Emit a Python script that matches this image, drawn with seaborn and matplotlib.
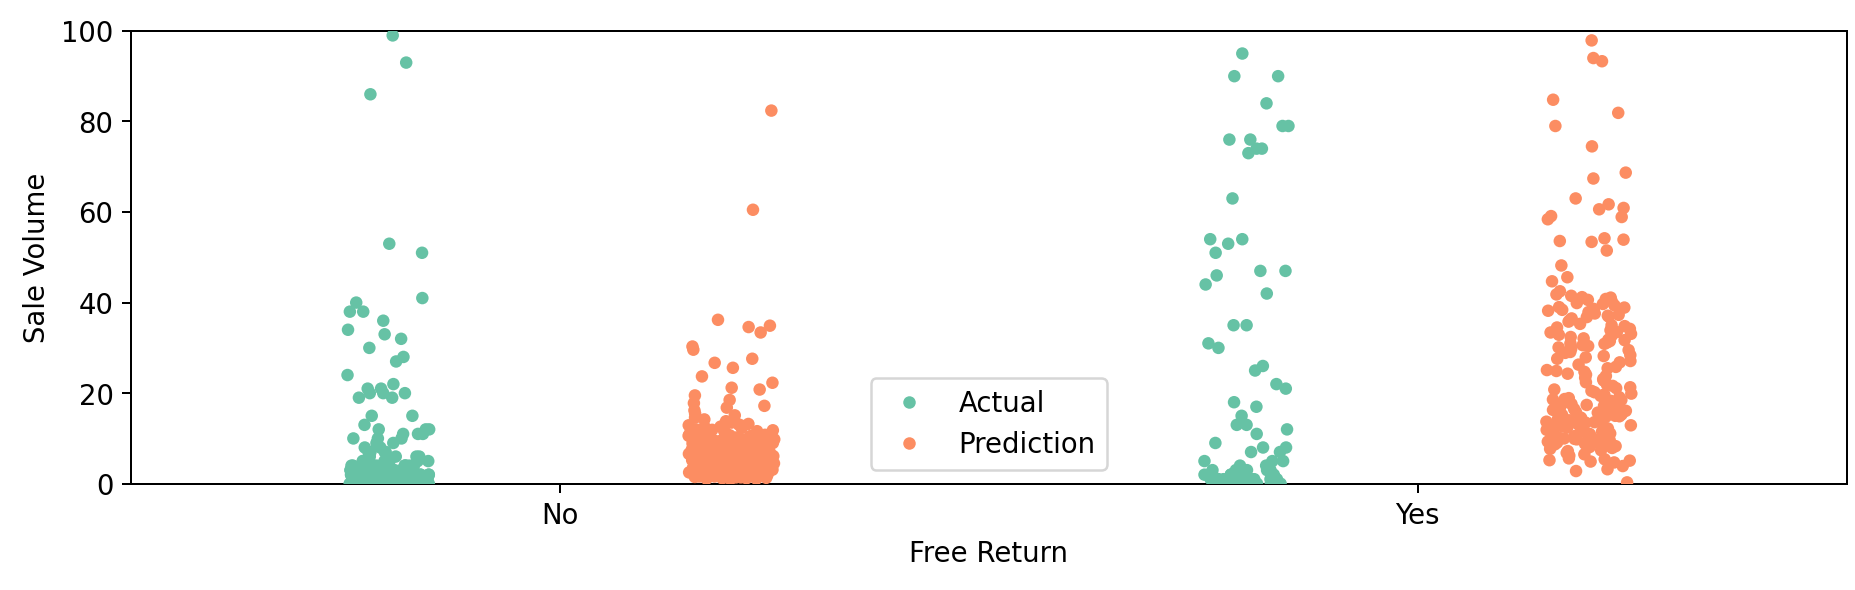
import pandas as pd
import matplotlib.pyplot as plt
import numpy as np
import seaborn as sns

# categorias y series
categories = ['No', 'Yes']
series = ['Actual', 'Prediction']

actual_no = [99, 93, 86, 53, 51, 41, 40, 38, 38, 36, 34, 33, 32, 30, 28, 27, 24, 22, 21, 21,
             20, 20, 20, 19, 19, 15, 15, 13, 12, 12, 12, 11, 11, 11, 10, 10, 10, 9, 9, 8,
             8, 7, 7, 7, 7, 6, 6, 6, 5, 5, 5, 5, 5, 4, 4, 4, 4, 4, 4, 3,
             3, 3, 3, 3, 3, 3, 3, 3, 2, 2, 2, 2, 2, 2, 2, 2, 2, 2, 2, 2,
             1, 1, 1, 1, 1, 1, 1, 1, 1, 1, 1, 1, 1, 1, 1, 1, 1, 1, 0, 0,
             0, 0, 0, 0, 0, 0, 0, 0, 0, 0, 0, 0, 0, 0, 0, 0, 0, 0, 0, 0,
             1, 2, 3, 1, 2, 0, 1, 2, 4, 3, 1, 0, 2, 1, 3, 2, 1, 0, 1, 2,
             0, 1, 2, 3, 4, 5, 0, 1, 2, 3, 0, 1, 2, 0, 1, 4, 2, 3, 1, 0,
             6, 5, 3, 2, 1, 0, 2, 1, 3, 0, 1, 2, 0, 4, 1, 0, 2, 1, 3, 0]

pred_no = [82.4, 60.5, 36.2, 34.9, 34.6, 33.4, 30.3, 29.6, 27.6, 26.7, 25.6, 23.7, 22.3, 21.2, 20.8,
           19.5, 18.5, 17.8, 17.2, 16.8, 16.2, 15.5, 15.1, 14.6, 14.2, 13.8, 13.5, 13.1, 12.8, 12.6,
           12.3, 12.1, 11.9, 11.6, 11.4, 11.2, 10.9, 10.7, 10.6, 10.3, 10.1, 9.9, 9.8, 9.6, 9.4,
           9.3, 9.1, 8.9, 8.8, 8.6, 8.5, 8.3, 8.2, 8.0, 7.9, 7.8, 7.6, 7.5, 7.4, 7.2,
           7.1, 7.0, 6.9, 6.8, 6.6, 6.5, 6.4, 6.3, 6.2, 6.1, 6.0, 5.9, 5.8, 5.7, 5.6,
           5.5, 5.4, 5.3, 5.2, 5.1, 5.0, 4.9, 4.8, 4.7, 4.6, 4.5, 4.4, 4.3, 4.2, 4.1,
           4.0, 3.9, 3.8, 3.7, 3.6, 3.5, 3.4, 3.3, 3.2, 3.1, 3.0, 2.9, 2.8, 2.7, 2.6,
           2.5, 2.4, 2.3, 2.2, 2.1, 2.0, 1.9, 1.8, 1.7, 1.6, 1.5, 1.4, 1.3, 1.2, 1.1,
           11.8, 10.4, 9.7, 8.7, 7.7, 6.7, 5.6, 4.6, 3.6, 2.6, 1.7, 9.2, 7.3, 5.2, 3.4,
           12.9, 11.1, 8.1, 6.0, 4.2, 2.3, 1.0, 10.8, 7.9, 5.5, 3.9, 2.8, 1.9, 6.6, 4.4,
           8.4, 6.3, 4.5, 2.9, 1.6, 9.5, 7.6, 5.7, 3.8, 2.2, 10.2, 8.8, 6.9, 5.1, 3.3,
           1.4, 11.5, 9.0, 7.0, 4.8, 3.0, 1.8, 12.4, 10.0, 8.3, 6.1, 4.1, 2.5, 1.2, 9.8,
           7.4, 5.3, 3.7, 2.0, 11.3, 8.6, 6.5, 4.3, 2.7, 1.5, 10.6, 8.0, 5.9, 3.5, 2.4,
           13.2, 9.6, 7.8, 5.8, 4.0, 2.1, 1.3, 11.0, 8.9, 6.8, 4.9, 3.1, 1.9, 10.5, 7.2,
           5.4, 3.2, 2.6, 12.0, 9.4, 6.4, 4.7, 2.8, 1.1, 8.5, 6.2, 4.4, 3.6, 1.7, 7.5]

actual_yes = [95, 90, 90, 84, 79, 79, 76, 76, 74, 74, 73, 63, 54, 54, 53, 51, 47, 47, 46, 44,
              42, 35, 35, 31, 30, 26, 25, 22, 21, 18, 17, 15, 13, 13, 12, 11, 9, 8, 8, 7,
              7, 5, 5, 5, 4, 4, 3, 3, 3, 3, 2, 2, 2, 2, 2, 1, 1, 1, 1, 1,
              1, 0, 0, 0, 0, 0, 0, 0, 0, 0, 1, 2, 0, 1, 0, 3, 1, 0, 2, 0,
              0, 1, 0, 2, 1, 0, 0, 1, 3, 0]

pred_yes = [97.9, 94.0, 93.3, 84.8, 81.9, 79.0, 74.5, 68.7, 67.4, 63.0, 61.7, 60.9, 60.6, 59.1, 58.9,
            58.4, 54.2, 53.9, 53.6, 53.4, 51.5, 48.2, 45.6, 44.7, 42.5, 41.8, 41.5, 41.1, 40.8, 40.3,
            39.7, 39.4, 39.0, 38.6, 38.2, 37.9, 37.3, 36.8, 36.5, 36.1, 35.3, 34.8, 34.2, 33.9, 33.1,
            32.7, 32.4, 32.1, 31.8, 31.2, 30.9, 30.4, 30.1, 29.5, 28.9, 28.4, 27.6, 27.1, 26.3, 25.8,
            25.1, 24.7, 24.3, 23.8, 23.1, 22.4, 21.9, 21.3, 20.8, 20.2, 19.7, 19.4, 18.9, 18.5, 18.1,
            17.8, 17.4, 17.0, 16.7, 16.3, 16.0, 15.7, 15.3, 15.0, 14.6, 14.3, 14.0, 13.7, 13.3, 13.0,
            12.7, 12.4, 12.0, 11.7, 11.4, 11.0, 10.7, 10.3, 10.0, 9.6, 9.3, 8.9, 8.5, 8.1, 7.7,
            7.2, 6.8, 6.2, 5.6, 5.1, 4.7, 3.9, 3.2, 2.8, 0.3, 40.6, 38.4, 36.9, 35.8, 33.5,
            31.5, 29.8, 27.9, 25.5, 22.8, 20.5, 18.7, 16.5, 14.8, 13.5, 12.2, 11.2, 9.8, 8.7, 5.4,
            39.9, 37.6, 34.5, 32.9, 30.6, 28.2, 24.9, 21.6, 19.1, 17.2, 15.5, 13.9, 12.5, 10.5, 9.1,
            41.2, 35.0, 31.0, 26.8, 23.4, 16.9, 14.1, 11.8, 9.9, 4.9,
            19.9, 18.3, 17.6, 16.1, 15.2, 14.4, 13.1, 12.9, 11.9, 11.5, 10.8, 10.1, 9.4, 8.3, 7.9,
            18.6, 16.4, 15.8, 14.9, 13.6, 12.3, 11.1, 9.7, 8.8, 7.4, 6.5, 5.2, 31.7, 30.3, 29.1,
            33.4, 37.1, 38.9, 24.1, 21.1]

# armar el dataframe largo
rows = []
for cat, act, pred in [('No', actual_no, pred_no), ('Yes', actual_yes, pred_yes)]:
    for v in act:
        rows.append((cat, v, 'Actual'))
    for v in pred:
        rows.append((cat, v, 'Prediction'))
df = pd.DataFrame(rows, columns=['Free Return', 'Sale Volume', 'type'])

plt.rcParams['font.size'] = 11

np.random.seed(3)
fig, ax = plt.subplots(figsize=(10.31, 3.28), dpi=180)
fig.subplots_adjust(left=0.0706, right=0.995, top=0.947, bottom=0.18)

sns.stripplot(data=df, x='Free Return', y='Sale Volume', hue='type', order=categories,
              hue_order=series, palette='Set2', dodge=True, jitter=0.1, size=5, ax=ax)

ax.set_ylim(0, 100)
ax.set_xlim(-0.5, 1.5)
ax.legend(loc='lower center')

fig.savefig('out.png', dpi=180)
